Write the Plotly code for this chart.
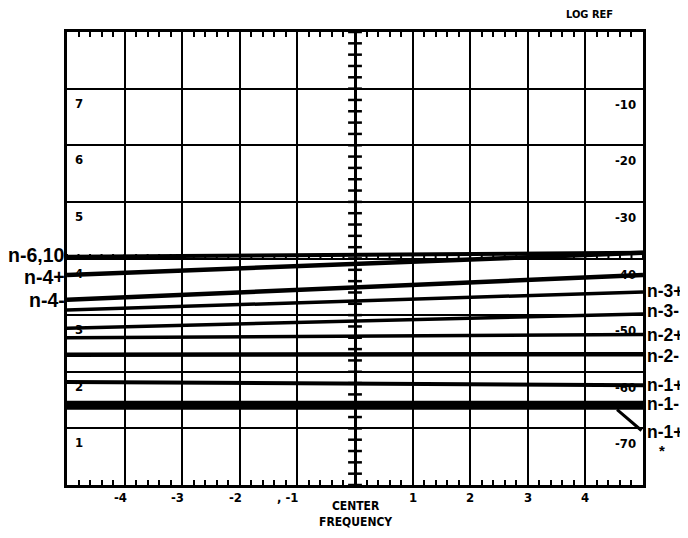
import numpy as np
import plotly.graph_objects as go

# ---------------- data ----------------
# frequency axis: divisions from centre frequency
x_tick_vals = [-4, -3, -2, -1, 1, 2, 3, 4]
x_tick_text = ["-4", "-3", "-2", ", -1", "1", "2", "3", "4"]
center_text = "CENTER<br>FREQUENCY"

# level axis (dB below log reference)
grid_levels = [-10, -20, -30, -40, -50, -60, -70]
left_level_text = ["7", "6", "5", "4", "3", "2", "1"]
right_level_text = ["-10", "-20", "-30", "-40", "-50", "-60", "-70"]

# measured responses: level at left edge (-5 div) and right edge (+5 div)
series_names = ["n-6,10", "n-4+", "n-4-", "n-3+", "n-3-", "n-2+", "n-2-", "n-1+", "n-1-"]
level_left = [-39.7, -42.9, -47.3, -49.1, -52.3, -54.0, -57.0, -61.8, -65.9]
level_right = [-39.0, -39.0, -42.9, -45.9, -49.8, -53.4, -56.9, -62.4, -65.9]
label_side = ["left", "left", "left", "right", "right", "right", "right", "right", "right"]

# pointer label at lower right
pointer_text = "n-1+"
pointer_level = -70.6
pointer_target = (4.55, -66.7)

# ---------------- style ----------------
line_widths = [4, 4.5, 4.5, 3.5, 3.5, 3.5, 4.5, 4, 9]
label_yshift = [2, -2, 0, 1, 3, -1, -2, 0, 1]
X_RANGE = [-5, 5]
Y_RANGE = [-80, 0]
SMALL = dict(family="DejaVu Sans Condensed, Liberation Sans Narrow, sans-serif",
             size=13, color="black", weight="bold")
BIG_L = dict(family="Liberation Sans, Arial, sans-serif", size=19.5, color="black", weight="bold")
BIG_R = dict(family="Liberation Sans, Arial, sans-serif", size=17.5, color="black", weight="bold")

fig = go.Figure()

# graticule extras: ticks on centre horizontal line, crosses on centre vertical line
tx, ty = [], []
for xv in np.arange(X_RANGE[0], X_RANGE[1] + 1e-9, 0.2):
    tx += [xv, xv, None]
    ty += [-40, -39.2, None]
fig.add_trace(go.Scatter(x=tx, y=ty, mode="lines", line=dict(color="black", width=2),
                         hoverinfo="skip", showlegend=False))
cx, cy = [], []
for yv in np.arange(Y_RANGE[0], Y_RANGE[1] + 1e-9, 2):
    cx += [-0.12, 0.12, None]
    cy += [yv, yv, None]
fig.add_trace(go.Scatter(x=cx, y=cy, mode="lines", line=dict(color="black", width=2.5),
                         hoverinfo="skip", showlegend=False))

# response lines
for name, yl, yr, w in zip(series_names, level_left, level_right, line_widths):
    fig.add_trace(go.Scatter(x=X_RANGE, y=[yl, yr], mode="lines", name=name,
                             line=dict(color="black", width=w), showlegend=False))

ann = []
# series labels
for name, yl, yr, side, ys in zip(series_names, level_left, level_right, label_side, label_yshift):
    if side == "left":
        ann.append(dict(x=X_RANGE[0], y=yl, xref="x", yref="y", text=name, showarrow=False,
                        xanchor="right", yanchor="middle", xshift=0, yshift=ys, font=BIG_L))
    else:
        ann.append(dict(x=X_RANGE[1], y=yr, xref="x", yref="y", text=name, showarrow=False,
                        xanchor="left", yanchor="middle", xshift=2, yshift=ys, font=BIG_R))
# pointer label + arrow
ann.append(dict(x=X_RANGE[1], y=pointer_level, xref="x", yref="y", text=pointer_text,
                showarrow=False, xanchor="left", yanchor="middle", xshift=2, font=BIG_R))
ann.append(dict(x=X_RANGE[1], y=pointer_level, xref="x", yref="y", text="*",
                showarrow=False, xanchor="left", yanchor="middle", xshift=14, yshift=-19,
                font=dict(BIG_R, size=15)))
ann.append(dict(x=pointer_target[0], y=pointer_target[1], ax=X_RANGE[1], ay=pointer_level,
                xref="x", yref="y", axref="x", ayref="y", text="", showarrow=True,
                arrowhead=0, arrowwidth=3, arrowcolor="black", standoff=0, startstandoff=0))

# level labels inside the graticule
for lv, lt, rt in zip(grid_levels, left_level_text, right_level_text):
    ann.append(dict(x=X_RANGE[0], y=lv, xref="x", yref="y", text=lt, showarrow=False,
                    xanchor="left", yanchor="top", xshift=6, yshift=-5, font=SMALL))
    ann.append(dict(x=X_RANGE[1], y=lv, xref="x", yref="y", text=rt, showarrow=False,
                    xanchor="right", yanchor="top", xshift=-5, yshift=-6, font=SMALL))

# frequency labels
for xv, txt in zip(x_tick_vals, x_tick_text):
    ann.append(dict(x=xv, y=0, xref="x", yref="paper", text=txt, showarrow=False,
                    xanchor="right" if xv < 0 else "center", yanchor="top",
                    xshift=4 if xv < 0 else 0, yshift=-3, font=SMALL))
ann.append(dict(x=0, y=0, xref="x", yref="paper", text=center_text, showarrow=False,
                xanchor="center", yanchor="top", yshift=-12, font=dict(SMALL, size=12)))
ann.append(dict(x=X_RANGE[1], y=1, xref="x", yref="paper", text="LOG REF", showarrow=False,
                xanchor="right", yanchor="bottom", xshift=-28, yshift=9, font=dict(SMALL, size=11)))

# the page adds an 8px body margin, so the figure is 680x530 placed at (8, 8)
fig.update_layout(
    width=680, height=530,
    margin=dict(l=59, r=45, t=24, b=53, autoexpand=False),
    paper_bgcolor="white", plot_bgcolor="white",
    annotations=ann,
    xaxis=dict(range=X_RANGE, dtick=1, tick0=0, showgrid=True, gridcolor="black", gridwidth=2,
               zeroline=True, zerolinecolor="black", zerolinewidth=3,
               showline=True, linecolor="black", linewidth=3, mirror="allticks",
               ticks="inside", ticklen=5, tickwidth=2, tickcolor="black",
               showticklabels=False, fixedrange=True,
               minor=dict(dtick=0.2, ticks="inside", ticklen=5, tickwidth=2,
                          tickcolor="black", showgrid=False)),
    yaxis=dict(range=Y_RANGE, dtick=10, tick0=0, showgrid=True, gridcolor="black", gridwidth=2,
               zeroline=False, showline=True, linecolor="black", linewidth=3, mirror=True,
               ticks="", showticklabels=False, fixedrange=True),
)

fig.write_html("out.html")
